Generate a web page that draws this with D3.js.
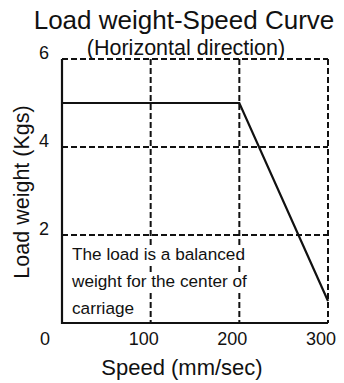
<!DOCTYPE html>
<html>
<head>
<meta charset="utf-8">
<script src="https://cdn.jsdelivr.net/npm/d3@7"></script>
<style>
  html, body { margin: 0; padding: 0; background: #fff; }
  svg { display: block; }
  text { font-family: "Liberation Sans", Arial, sans-serif; fill: #111; }
</style>
</head>
<body>
<svg id="chart" width="344" height="383"></svg>
<script>
// Load weight vs speed curve
const speeds = [0, 200, 300];          // mm/sec
const loads = [5, 5, 0.5];             // Kgs
const xTicks = [100, 200, 300];
const yTicks = [2, 4, 6];
const originLabel = "0";
const title = "Load weight-Speed Curve";
const subtitle = "(Horizontal direction)";
const xTitle = "Speed (mm/sec)";
const yTitle = "Load weight (Kgs)";
const note = ["The load is a balanced", "weight for the center of", "carriage"];

const svg = d3.select("#chart");
const ink = "#111";

const x = d3.scaleLinear().domain([0, 300]).range([62, 328]);
const y = d3.scaleLinear().domain([0, 6]).range([323, 59]);

// dashed grid (also forms the top and right borders)
const grid = svg.append("g")
  .attr("stroke", ink).attr("stroke-width", 2).attr("stroke-dasharray", "6,3");
grid.selectAll("line.h").data(yTicks).join("line").attr("class", "h")
  .attr("x1", x(0)).attr("x2", x(300))
  .attr("y1", d => y(d)).attr("y2", d => y(d));
grid.selectAll("line.v").data(xTicks).join("line").attr("class", "v")
  .attr("x1", d => x(d)).attr("x2", d => x(d))
  .attr("y1", y(6)).attr("y2", y(0));

// solid left and bottom axes
svg.append("path")
  .attr("d", `M${x(0)},${y(6)}V${y(0)}H${x(300)}`)
  .attr("fill", "none").attr("stroke", ink).attr("stroke-width", 2.2);

// curve
const line = d3.line().x((d, i) => x(speeds[i])).y(d => y(d));
svg.append("path")
  .datum(loads)
  .attr("d", line)
  .attr("fill", "none").attr("stroke", ink).attr("stroke-width", 2.2);

// tick labels
svg.selectAll("text.yt").data(yTicks).join("text").attr("class", "yt")
  .attr("x", 44).attr("y", d => y(d))
  .attr("text-anchor", "middle").attr("font-size", 18)
  .text(d => d);
svg.selectAll("text.xt").data(xTicks).join("text").attr("class", "xt")
  .attr("x", d => x(d) - 7).attr("y", 345)
  .attr("text-anchor", "middle").attr("font-size", 18)
  .text(d => d);
svg.append("text")
  .attr("x", x(0) - 17).attr("y", 345)
  .attr("text-anchor", "middle").attr("font-size", 18)
  .text(originLabel);

// titles
svg.append("text")
  .attr("x", 184).attr("y", 29).attr("text-anchor", "middle")
  .attr("font-size", 26).text(title);
svg.append("text")
  .attr("x", 186).attr("y", 54.5).attr("text-anchor", "middle")
  .attr("font-size", 21.5).text(subtitle);
svg.append("text")
  .attr("x", 182).attr("y", 375).attr("text-anchor", "middle")
  .attr("font-size", 22).text(xTitle);
svg.append("text")
  .attr("transform", "translate(29,192) rotate(-90)")
  .attr("text-anchor", "middle")
  .attr("font-size", 21.5).text(yTitle);

// note inside the plot, each line on a white backing that hides the grid
const noteG = svg.append("g");
const noteLines = noteG.selectAll("g").data(note).join("g");
noteLines.each(function(d, i) {
  const g = d3.select(this);
  const bg = g.append("rect").attr("fill", "#fff");
  const t = g.append("text")
    .attr("x", 72).attr("y", 260 + i * 27)
    .attr("font-size", 17.2)
    .text(d);
  const b = t.node().getBBox();
  bg.attr("x", b.x - 2).attr("y", b.y + 1)
    .attr("width", b.width + 4).attr("height", b.height - 2);
});
</script>
</body>
</html>
